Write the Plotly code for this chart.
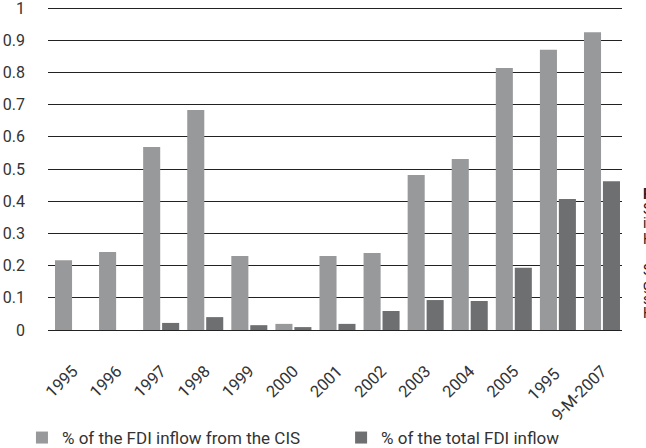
import plotly.graph_objects as go

categories = ["1995", "1996", "1997", "1998", "1999", "2000", "2001",
              "2002", "2003", "2004", "2005", "1995 ", "9-M-2007"]
cis_share = [0.217, 0.242, 0.568, 0.683, 0.230, 0.019, 0.230,
             0.239, 0.481, 0.531, 0.814, 0.870, 0.925]
total_share = [0, 0, 0.022, 0.040, 0.015, 0.009, 0.019,
               0.059, 0.093, 0.090, 0.193, 0.407, 0.462]
y_ticks = [0, 0.1, 0.2, 0.3, 0.4, 0.5, 0.6, 0.7, 0.8, 0.9, 1]
y_ticklabels = ["0", "0.1", "0.2", "0.3", "0.4", "0.5", "0.6", "0.7", "0.8", "0.9", "1"]
side_lines = [("<b>F</b>", 194), ("S", 209), ("i", 223), ("H", 239),
              ("S", 270), ("g", 285), ("s", 299), ("H", 313)]

FONT = "Roboto"
fig = go.Figure()
fig.add_trace(go.Bar(x=categories, y=cis_share, name="% of the FDI inflow from the CIS",
                     marker_color="#98999b", marker_line_width=0, legend="legend",
                     showlegend=True))
fig.add_trace(go.Bar(x=categories, y=total_share, name="% of the total FDI inflow",
                     marker_color="#6e6f71", marker_line_width=0, legend="legend2",
                     showlegend=True))

W, H = 646, 448
L, R, T, B = 48, 24, 2, 118
pw = W - L - R
ph = H - T - B
ymax = ph / 322.0  # 1.0 lands 6px below the top of the plot area

annotations = []
for txt, ypix in side_lines:
    annotations.append(dict(text=txt, xref="paper", yref="paper",
                            x=(641 - L) / pw, y=(H - B - ypix) / ph,
                            xanchor="left", yanchor="middle", showarrow=False,
                            font=dict(family=FONT, size=14, color="#222")))

legend_common = dict(orientation="h", xref="container", yref="container",
                     y=(H - 420) / H, xanchor="left", yanchor="top",
                     font=dict(size=17, color="#333"), bgcolor="rgba(0,0,0,0)")

fig.update_layout(
    width=W, height=H,
    margin=dict(l=L, r=R, t=T, b=B),
    paper_bgcolor="white", plot_bgcolor="white",
    barmode="group", bargap=0.14, bargroupgap=0.1,
    font=dict(family=FONT, size=15, color="#333"),
    showlegend=True,
    xaxis=dict(type="category", range=[-0.567, 12.454], tickangle=-45,
               showgrid=False, showline=False, automargin=False,
               ticks="outside", ticklen=24, tickcolor="rgba(0,0,0,0)",
               tickfont=dict(size=16.5, color="#333")),
    yaxis=dict(range=[0, ymax], tickvals=y_ticks, ticktext=y_ticklabels,
               showgrid=True, gridcolor="#222", gridwidth=1, automargin=False,
               zeroline=True, zerolinecolor="#222", zerolinewidth=1,
               ticks="", ticklabelstandoff=22, ticklabeloverflow="allow",
               tickfont=dict(size=16, color="#333")),
    legend=dict(x=0.034, **legend_common),
    legend2=dict(x=0.528, **legend_common),
    annotations=annotations,
)
fig.write_html("out.html")
